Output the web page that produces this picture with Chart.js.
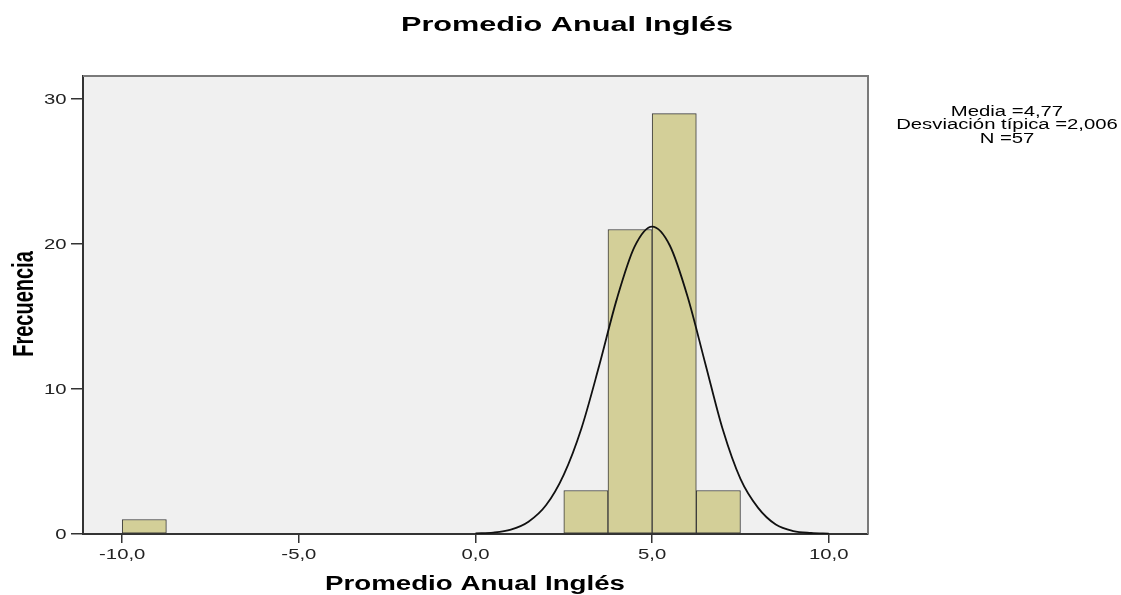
<!DOCTYPE html>
<html>
<head>
<meta charset="utf-8">
<script src="https://cdn.jsdelivr.net/npm/chart.js@4.4.0/dist/chart.umd.min.js"></script>
<style>
  body { margin: 0; background: #fff; }
  canvas { display: block; }
</style>
</head>
<body>
<canvas id="myChart" width="1121" height="595"></canvas>
<script>
// Histogram bins (centres, width 1,25) and counts
var binCenters = [-9.375, 3.125, 4.375, 5.625, 6.875];
var binCounts  = [1, 3, 21, 29, 3];

// Normal curve
var curveX = [0, 0.5, 1, 1.5, 2, 2.5, 3, 3.5, 4, 4.5, 5, 5.5, 6, 6.5, 7, 7.5, 8, 8.5, 9, 9.5, 10];
var curveY = [0.05, 0.1, 0.3, 0.85, 2.0, 4.1, 7.3, 11.6, 16.2, 19.8, 21.2, 19.9, 16.4, 11.8, 7.2, 3.8, 1.8, 0.65, 0.2, 0.07, 0.02];

var xTicks = [-10, -5, 0, 5, 10];
var yTicks = [0, 10, 20, 30];

var titleText = 'Promedio Anual Inglés';
var xTitle    = 'Promedio Anual Inglés';
var yTitle    = 'Frecuencia';
var statLines = ['Media =4,77', 'Desviación típica =2,006', 'N =57'];

var STRETCH = 1.45;
var FONT = '"Liberation Sans", Arial, sans-serif';

function fmt(v) {
    return v.toFixed(1).replace('.', ',');
}

function drawText(ctx, text, x, y, font, sx, align) {
    ctx.save();
    ctx.font = font;
    ctx.translate(x, y);
    ctx.scale(sx, 1);
    ctx.textAlign = align;
    ctx.textBaseline = 'alphabetic';
    ctx.fillText(text, 0, 0);
    ctx.restore();
}

function fitText(ctx, text, cx, y, font, width) {
    ctx.save();
    ctx.font = font;
    var w = ctx.measureText(text).width;
    ctx.restore();
    drawText(ctx, text, cx, y, font, width / w, 'center');
}

var histData = binCenters.map(function(c, i) { return { x: c, y: binCounts[i] }; });
var curveData = curveX.map(function(x, i) { return { x: x, y: curveY[i] }; });

var spssPlugin = {
    id: 'spss',
    beforeDraw: function(chart) {
        var a = chart.chartArea, ctx = chart.ctx;
        ctx.save();
        ctx.fillStyle = '#f0f0f0';
        ctx.fillRect(a.left, a.top, a.right - a.left, a.bottom - a.top);
        ctx.restore();
    },
    afterDraw: function(chart) {
        var a = chart.chartArea, ctx = chart.ctx;
        ctx.save();
        ctx.strokeStyle = '#7a7a7a';
        ctx.lineWidth = 2;
        ctx.beginPath();
        ctx.moveTo(a.left, a.top);
        ctx.lineTo(a.right, a.top);
        ctx.lineTo(a.right, a.bottom);
        ctx.stroke();
        ctx.restore();

        ctx.fillStyle = '#222';
        var xs = chart.scales.x, ys = chart.scales.y;
        xs.ticks.forEach(function(t, i) {
            drawText(ctx, fmt(t.value), xs.getPixelForTick(i), 558.5, '14px ' + FONT, STRETCH, 'center');
        });
        ys.ticks.forEach(function(t, i) {
            drawText(ctx, String(t.value), 66.5, ys.getPixelForTick(i) + 5, '14px ' + FONT, STRETCH, 'right');
        });

        ctx.fillStyle = '#000';
        fitText(ctx, titleText, 567, 30.5, 'bold 20px ' + FONT, 332);
        fitText(ctx, xTitle, 475, 589.5, 'bold 20px ' + FONT, 300);

        // rotated y title, stretched across the screen x direction
        ctx.save();
        ctx.font = 'bold 20px ' + FONT;
        ctx.translate(33, 304);
        ctx.scale(STRETCH, 1);
        ctx.rotate(-Math.PI / 2);
        ctx.textAlign = 'center';
        ctx.textBaseline = 'alphabetic';
        ctx.fillText(yTitle, 0, 0);
        ctx.restore();

        statLines.forEach(function(s, i) {
            drawText(ctx, s, 1007, 115.5 + i * 13.5, '14px ' + FONT, STRETCH, 'center');
        });
    }
};

var ctx = document.getElementById('myChart');

var myChart = new Chart(ctx, {
    type: 'bar',
    data: {
        datasets: [{
            type: 'line',
            label: 'Normal',
            data: curveData,
            borderColor: '#111',
            borderWidth: 1.8,
            pointRadius: 0,
            fill: false,
            cubicInterpolationMode: 'monotone'
        }, {
            type: 'bar',
            label: 'Frecuencia',
            data: histData,
            backgroundColor: '#d3cf98',
            borderColor: '#3a3a3a',
            borderWidth: 1,
            borderSkipped: false,
            barPercentage: 1,
            categoryPercentage: 1
        }]
    },
    options: {
        responsive: false,
        animation: false,
        layout: { padding: { top: 76, right: 253, left: 0, bottom: 0 } },
        plugins: {
            legend: { display: false },
            tooltip: { enabled: false }
        },
        scales: {
            x: {
                type: 'linear',
                min: -11.11,
                max: 11.11,
                offset: false,
                afterBuildTicks: function(scale) {
                    scale.ticks = xTicks.map(function(v) { return { value: v }; });
                },
                afterFit: function(scale) { scale.height = 61; },
                ticks: { display: false },
                grid: { offset: false, drawOnChartArea: false, drawTicks: true, tickLength: 9, color: '#333', lineWidth: 1.5 },
                border: { display: true, color: '#333', width: 2 }
            },
            y: {
                type: 'linear',
                min: 0,
                max: 31.59,
                afterBuildTicks: function(scale) {
                    scale.ticks = yTicks.map(function(v) { return { value: v }; });
                },
                afterFit: function(scale) { scale.width = 83; },
                ticks: { display: false },
                grid: { drawOnChartArea: false, drawTicks: true, tickLength: 12, color: '#333', lineWidth: 1.5 },
                border: { display: true, color: '#333', width: 2 }
            }
        }
    },
    plugins: [spssPlugin]
});
</script>
</body>
</html>
